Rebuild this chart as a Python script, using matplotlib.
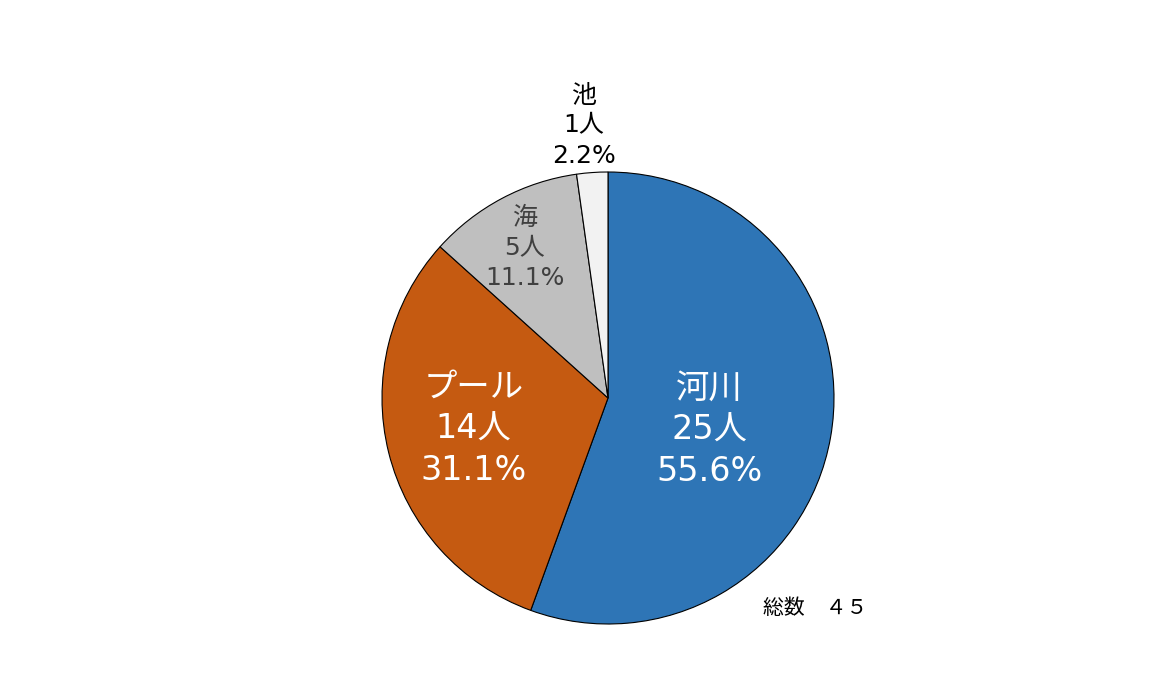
import numpy as np
import matplotlib.pyplot as plt

plt.rcParams['font.family'] = ['DejaVu Sans', 'Noto Sans CJK JP']

names = ['河川', 'プール', '海', '池']
counts = [25, 14, 5, 1]
pcts = ['55.6%', '31.1%', '11.1%', '2.2%']
colors = ['#2E75B6', '#C55A11', '#BFBFBF', '#F2F2F2']
text_colors = ['white', 'white', '#404040', 'black']
font_sizes = [24, 24, 18, 18]
# label placement: distance from centre (in radii) and angle tweak (deg)
label_dist = [0.47, 0.61, 0.76, 1.21]
label_dang = [-7.5, -1, 1, 1]
total = sum(counts)

W, H = 1169, 697
fig = plt.figure(figsize=(W / 100, H / 100), dpi=100)
ax = fig.add_axes([0, 0, 1, 1])

cx, cy, r = 608, H - 398, 226
wedges, _ = ax.pie(counts, colors=colors, startangle=90, counterclock=False,
                   center=(cx, cy), radius=r, frame=True,
                   wedgeprops=dict(edgecolor='black', linewidth=0.8))
ax.set_xlim(0, W)
ax.set_ylim(0, H)
ax.set_aspect('equal')
ax.axis('off')

for i, w in enumerate(wedges):
    mid = np.deg2rad((w.theta1 + w.theta2) / 2 + label_dang[i])
    x = cx + r * label_dist[i] * np.cos(mid)
    y = cy + r * label_dist[i] * np.sin(mid)
    ax.text(x, y, f'{names[i]}\n{counts[i]}人\n{pcts[i]}', ha='center', va='center',
            color=text_colors[i], fontsize=font_sizes[i], linespacing=1.32)

ax.text(815, H - 608, f'総数　{total}'.replace('4', '４').replace('5', '５'),
        ha='center', va='center', fontsize=15, color='black',
        family='Noto Sans CJK JP')

fig.savefig('out.png', dpi=100)
